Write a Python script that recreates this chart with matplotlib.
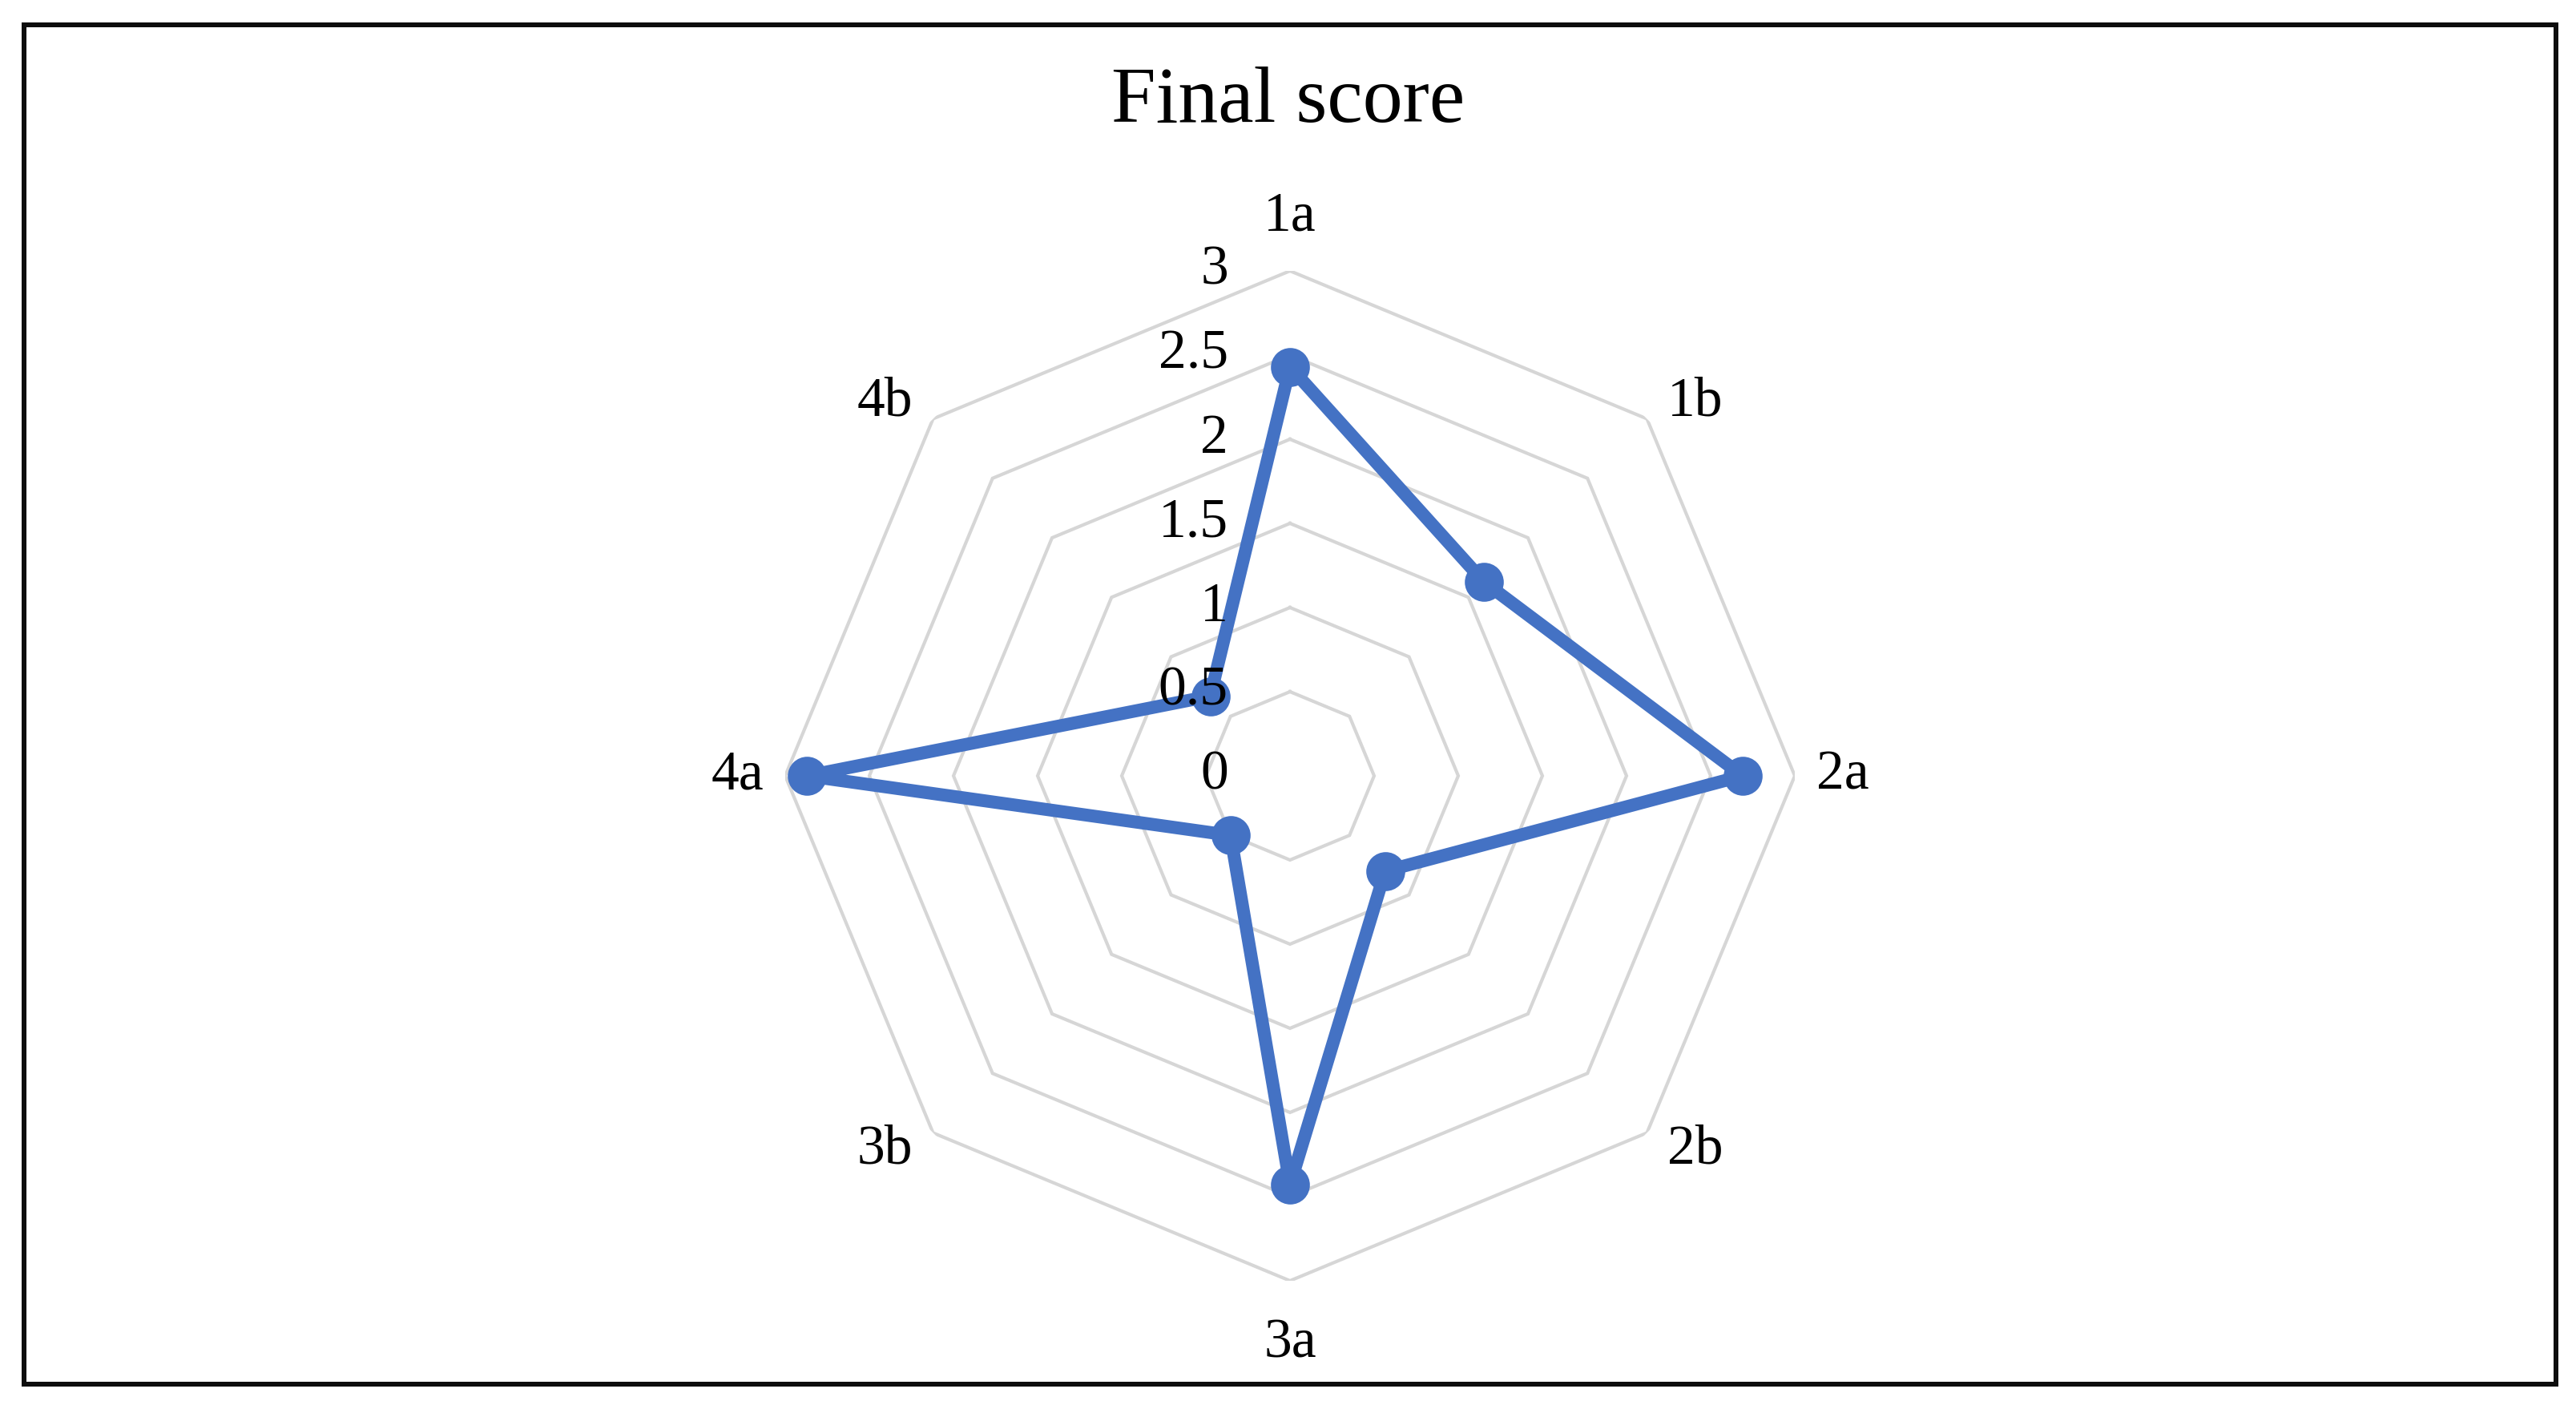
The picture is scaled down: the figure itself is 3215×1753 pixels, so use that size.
import numpy as np
import matplotlib
matplotlib.use("Agg")
import matplotlib.pyplot as plt
from matplotlib.transforms import offset_copy
from matplotlib.patches import Rectangle

# ---- data ----
categories = ["1a", "1b", "2a", "2b", "3a", "3b", "4a", "4b"]
scores = [2.43, 1.63, 2.69, 0.80, 2.43, 0.50, 2.87, 0.67]
ticks = [0, 0.5, 1, 1.5, 2, 2.5, 3]
tick_labels = ["0", "0.5", "1", "1.5", "2", "2.5", "3"]
title = "Final score"

DPI = 200
W, H = 3215, 1753
plt.rcParams["font.family"] = ["Liberation Serif", "DejaVu Serif"]

fig = plt.figure(figsize=(W / DPI, H / DPI), dpi=DPI)
fig.patch.set_facecolor("white")

# polar axes: center at (1610, 968) px from top-left, r=3 -> 630 px
ax = fig.add_axes([980 / W, 155 / H, 1260 / W, 1260 / H], projection="polar")
ax.set_theta_offset(np.pi / 2)
ax.set_theta_direction(-1)
ax.set_ylim(0, ticks[-1])
ax.grid(False)
ax.spines["polar"].set_visible(False)
ax.set_xticks([])
ax.set_yticks([])
ax.patch.set_alpha(0)

n = len(categories)
angles = np.arange(n) * 2 * np.pi / n
ang_closed = np.append(angles, angles[0])

# octagonal gridlines
for t in ticks[1:]:
    ax.plot(ang_closed, [t] * (n + 1), color="#D6D6D6", lw=1.5, zorder=1,
            solid_joinstyle="miter")

# data series
vals_closed = scores + scores[:1]
ax.plot(ang_closed, vals_closed, color="#4472C4", lw=5.8, zorder=3,
        solid_joinstyle="round", solid_capstyle="round")
ax.plot(angles, scores, "o", color="#4472C4", ms=16.5, zorder=4)

# radial tick labels (left of vertical axis)
tick_tr = offset_copy(ax.transData, fig=fig, x=-77, y=0, units="dots")
for t, lab in zip(ticks, tick_labels):
    ax.text(0, t, lab, transform=tick_tr, ha="right", va="center",
            fontsize=25, color="#000000", zorder=6, clip_on=False)

# category labels, placed next to the outer vertex
r_out = ticks[-1]
for a, c in zip(angles, categories):
    s, co = np.sin(a), np.cos(a)
    ox = 60 * np.sign(round(s, 3))
    if abs(co) > 0.99:
        oy = (67 if co > 0 else 79) * np.sign(co)
    else:
        oy = 21 * np.sign(round(co, 3))
    ax.annotate(c, xy=(a, r_out), xytext=(ox, oy), textcoords="offset pixels",
                ha="center", va="center", fontsize=25, color="#000000",
                annotation_clip=False)

# title
fig.text(1608 / W, 1 - 152 / H, title, ha="center", va="baseline",
         fontsize=36, color="#000000")

# outer border
fig.patches.append(Rectangle((30 / W, (H - 1727) / H), (3190 - 30) / W,
                             (1727 - 31) / H, transform=fig.transFigure,
                             fill=False, edgecolor="#0D0D0D", lw=2.16))

fig.savefig("out.png", dpi=DPI)
